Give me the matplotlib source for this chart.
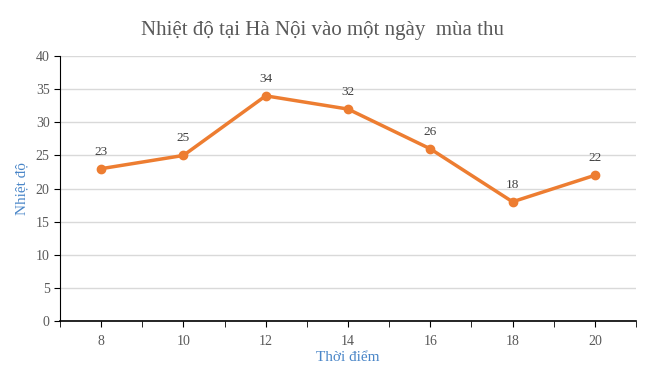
import matplotlib
matplotlib.use("Agg")
import matplotlib.pyplot as plt
import numpy as np

hours = ["8", "10", "12", "14", "16", "18", "20"]
temps = [23, 25, 34, 32, 26, 18, 22]

plt.rcParams['font.family'] = ['Liberation Serif', 'DejaVu Serif']

fig = plt.figure(figsize=(6.45, 3.79), dpi=100)
ax = fig.add_axes([0.093, 0.153, 0.893, 0.699])

x = np.arange(len(hours))
ax.plot(x, temps, color='#ED7D31', linewidth=2.5, marker='o', markersize=6, zorder=3)
for xi, t in zip(x, temps):
    ax.annotate(str(t), (xi, t), xytext=(0, 8), textcoords='offset points',
                ha='center', va='bottom', fontsize=9.5, color='#404040')

ax.set_xlim(-0.5, len(hours) - 0.5)
ax.set_ylim(0, 40)
ax.set_yticks(range(0, 41, 5))
ax.set_xticks(x)
ax.set_xticklabels(hours)
ax.set_xticks(np.arange(-0.5, len(hours), 1), minor=True)
ax.grid(axis='y', color='#D9D9D9', linewidth=1)
ax.set_axisbelow(True)

for s in ['top', 'right']:
    ax.spines[s].set_visible(False)
ax.spines['left'].set_color('black')
ax.spines['bottom'].set_color('black')
ax.spines['bottom'].set_linewidth(1.2)
ax.tick_params(axis='both', which='both', length=4, color='black', labelsize=10, labelcolor='#595959')
ax.tick_params(axis='x', pad=6)

ax.set_xlabel('Thời điểm', color='#4A86C8', fontsize=11, labelpad=2)
ax.set_ylabel('Nhiệt độ', color='#4A86C8', fontsize=11, labelpad=5)
fig.suptitle('Nhiệt độ tại Hà Nội vào một ngày  mùa thu', y=0.945, fontsize=15, color='#595959')

fig.savefig('out.png', dpi=100)
